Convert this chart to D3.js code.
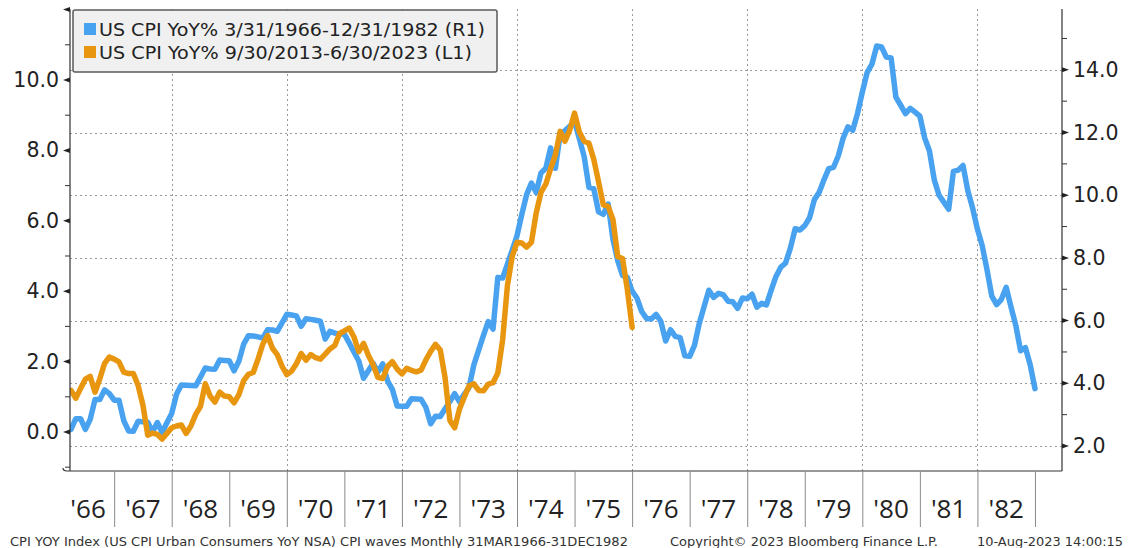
<!DOCTYPE html>
<html><head><meta charset="utf-8">
<script src="https://cdn.jsdelivr.net/npm/d3@7"></script>
<style>
html,body{margin:0;padding:0;background:#fff;}
svg{display:block;}
</style></head>
<body>
<script>
// ---------------- DATA ----------------
// Blue series: US CPI YoY%, monthly, Mar 1966 .. Dec 1982 (right axis)
const blueLabel = "US CPI YoY% 3/31/1966-12/31/1982 (R1)";
const blueValues = [
  2.53, 2.87, 2.87, 2.53, 2.85, 3.48, 3.48, 3.79, 3.67, 3.46,
  3.46, 2.81, 2.48, 2.47, 2.79, 2.77, 2.76, 2.45, 2.75, 2.43, 2.74, 3.04,
  3.65, 3.95, 3.94, 3.93, 3.92, 4.20, 4.49, 4.46, 4.45, 4.74, 4.73, 4.72,
  4.40, 4.70, 5.25, 5.52, 5.51, 5.48, 5.44, 5.71, 5.70, 5.66, 5.93, 6.20,
  6.18, 6.15, 5.82, 6.06, 6.04, 6.01, 5.98, 5.41, 5.66, 5.60, 5.57, 5.57,
  5.29, 5.00, 4.71, 4.16, 4.40, 4.64, 4.36, 4.62, 4.08, 3.81, 3.28, 3.27,
  3.27, 3.51, 3.50, 3.49, 3.23, 2.71, 2.95, 2.94, 3.19, 3.42, 3.67, 3.41,
  3.65, 3.87, 4.59, 5.06, 5.53, 5.97, 5.73, 7.38, 7.36, 7.80, 8.25, 8.71,
  9.39, 10.02, 10.39, 10.09, 10.71, 10.86, 11.51, 10.86, 11.95, 12.06, 12.20, 12.34,
  11.80, 11.23, 10.25, 10.21, 9.47, 9.39, 9.72, 8.60, 7.91, 7.44, 7.38, 6.94,
  6.72, 6.29, 6.07, 6.05, 6.20, 5.97, 5.35, 5.71, 5.50, 5.46, 4.88, 4.86,
  5.21, 5.91, 6.44, 6.97, 6.74, 6.87, 6.83, 6.62, 6.60, 6.39, 6.72, 6.70,
  6.84, 6.43, 6.55, 6.50, 6.97, 7.41, 7.70, 7.84, 8.31, 8.93, 8.89, 9.03,
  9.28, 9.86, 10.09, 10.49, 10.85, 10.89, 11.26, 11.82, 12.18, 12.07, 12.61, 13.29,
  13.91, 14.18, 14.76, 14.73, 14.41, 14.38, 13.13, 12.87, 12.60, 12.77, 12.65, 12.52,
  11.83, 11.41, 10.49, 10.00, 9.78, 9.55, 10.76, 10.80, 10.95, 10.14, 9.59, 8.92,
  8.39, 7.62, 6.78, 6.51, 6.68, 7.06, 6.44, 5.85, 5.04, 5.14, 4.59, 3.83
];
// Orange series: US CPI YoY%, monthly, Sep 2013 .. Jun 2023 (left axis), overlaid from Mar 1966
const orangeLabel = "US CPI YoY% 9/30/2013-6/30/2023 (L1)";
const orangeValues = [
  1.18, 0.96, 1.24, 1.50,
  1.58, 1.13, 1.51, 1.95, 2.13, 2.07, 1.99, 1.70, 1.66, 1.66, 1.32, 0.76,
  -0.09, -0.03, -0.07, -0.20, -0.04, 0.12, 0.17, 0.20, -0.04, 0.17, 0.50, 0.73,
  1.37, 1.02, 0.85, 1.13, 1.02, 1.00, 0.83, 1.06, 1.46, 1.64, 1.69, 2.07,
  2.50, 2.74, 2.38, 2.20, 1.87, 1.63, 1.73, 1.94, 2.23, 2.04, 2.20, 2.11,
  2.07, 2.21, 2.36, 2.46, 2.80, 2.87, 2.95, 2.70, 2.28, 2.52, 2.18, 1.91,
  1.55, 1.52, 1.86, 2.00, 1.79, 1.65, 1.81, 1.75, 1.71, 1.76, 2.05, 2.29,
  2.49, 2.33, 1.54, 0.33, 0.12, 0.65, 0.99, 1.31, 1.37, 1.18, 1.17, 1.36,
  1.40, 1.68, 2.62, 4.16, 4.99, 5.39, 5.37, 5.25, 5.39, 6.22, 6.81, 7.04,
  7.48, 7.87, 8.54, 8.26, 8.58, 9.06, 8.52, 8.26, 8.20, 7.75, 7.11, 6.45,
  6.41, 6.04, 4.98, 4.93, 4.05, 2.97
];
const startYear = 1966, startMonth = 3;   // first point (month-end) of the time axis
const yearLabels = ["'66","'67","'68","'69","'70","'71","'72","'73","'74","'75","'76","'77","'78","'79","'80","'81","'82"];
const leftTicks = [0, 2, 4, 6, 8, 10];
const rightTicks = [2, 4, 6, 8, 10, 12, 14];
const footerLeft = "CPI YOY Index (US CPI Urban Consumers YoY NSA) CPI waves  Monthly 31MAR1966-31DEC1982";
const footerMid = "Copyright\u00A9 2023 Bloomberg Finance L.P.";
const footerRight = "10-Aug-2023 14:00:15";

// ---------------- LAYOUT ----------------
const W = 1135, H = 548;
const L = 70, R = 1062, T = 9, B = 471;
const BLUE = "#48a2ef", ORANGE = "#e8960f";
const FONT = "DejaVu Sans, Verdana, sans-serif";

const svg = d3.select("body").append("svg").attr("width", W).attr("height", H);
svg.append("rect").attr("width", W).attr("height", H).attr("fill", "#fff");

// time scale in decimal years (month-end positions)
const x = d3.scaleLinear().domain([1966.2326, 1983.4697]).range([L, R]);
const yL = d3.scaleLinear().domain([-1.108, 12.017]).range([B, T]);
const yR = d3.scaleLinear().domain([1.203, 15.94]).range([B, T]);
const tOf = i => startYear + (startMonth + i) / 12;   // month-end decimal year

// grid: horizontal (right axis), vertical at even years
const grid = svg.append("g").attr("stroke", "#9a9a9a").attr("stroke-width", 1).attr("stroke-dasharray", "2,3");
grid.selectAll("line.h").data(rightTicks).join("line")
  .attr("x1", L).attr("x2", R).attr("y1", d => Math.round(yR(d)) + 0.5).attr("y2", d => Math.round(yR(d)) + 0.5);
const evenYears = d3.range(1968, 1983, 2);
grid.selectAll("line.v").data(evenYears).join("line")
  .attr("y1", T).attr("y2", B).attr("x1", d => Math.round(x(d)) + 0.5).attr("x2", d => Math.round(x(d)) + 0.5);

// lines
svg.append("clipPath").attr("id", "clip").append("rect").attr("x", L).attr("y", T).attr("width", R - L).attr("height", B - T);
const gl = svg.append("g").attr("clip-path", "url(#clip)");
const lineB = d3.line().x((d, i) => x(tOf(i))).y(d => yR(d)).curve(d3.curveLinear);
const lineO = d3.line().x((d, i) => x(tOf(i))).y(d => yL(d)).curve(d3.curveLinear);
gl.append("path").attr("d", lineB(blueValues)).attr("fill", "none").attr("stroke", BLUE)
  .attr("stroke-width", 5.5).attr("stroke-linejoin", "round").attr("stroke-linecap", "round");
gl.append("path").attr("d", lineO(orangeValues)).attr("fill", "none").attr("stroke", ORANGE)
  .attr("stroke-width", 5.5).attr("stroke-linejoin", "round").attr("stroke-linecap", "round");

// frame
const frame = svg.append("g").attr("stroke", "#333").attr("stroke-width", 1.2).attr("fill", "none");
frame.append("path").attr("d", `M${L},${T} L${L},${B} M${R},${T} L${R},${B} M${L - 7},${B - 3} Q${L - 7},${B} ${L - 3},${B} L${R},${B}`);

// left axis (labels via d3 axis)
const axL = svg.append("g").attr("transform", `translate(${L - 11},0)`)
  .call(d3.axisLeft(yL).tickValues(leftTicks).tickSize(0).tickPadding(0).tickFormat(d3.format(".1f")));
axL.select(".domain").remove();
axL.selectAll("text").attr("font-family", FONT).attr("font-size", 20.5).attr("fill", "#222");
// left ticks: majors (triangles) and minors
const lMaj = d3.range(0, 13, 2), lMin = d3.range(-1, 12, 2);
svg.append("g").selectAll("path").data(lMaj).join("path")
  .attr("d", d => { const y = yL(d); return `M${L},${y - 2.5} L${L - 7},${y} L${L},${y + 2.5} Z`; })
  .attr("fill", "#222");
svg.append("g").selectAll("line").data(lMin).join("line")
  .attr("x1", L - 5).attr("x2", L).attr("y1", d => yL(d)).attr("y2", d => yL(d)).attr("stroke", "#333");

// right axis
const axR = svg.append("g").attr("transform", `translate(${R + 11},0)`)
  .call(d3.axisRight(yR).tickValues(rightTicks).tickSize(0).tickPadding(0).tickFormat(d3.format(".1f")));
axR.select(".domain").remove();
axR.selectAll("text").attr("font-family", FONT).attr("font-size", 20.5).attr("fill", "#222");
const rMin = d3.range(3, 16, 2);
svg.append("g").selectAll("path").data(rightTicks).join("path")
  .attr("d", d => { const y = yR(d); return `M${R},${y - 2.5} L${R + 7},${y} L${R},${y + 2.5} Z`; })
  .attr("fill", "#222");
svg.append("g").selectAll("line").data(rMin).join("line")
  .attr("x1", R).attr("x2", R + 5).attr("y1", d => yR(d)).attr("y2", d => yR(d)).attr("stroke", "#333");

// bottom axis: year separators through d3 axis
const yearStarts = d3.range(1967, 1984);
const axB = svg.append("g").attr("transform", `translate(0,${B})`)
  .call(d3.axisBottom(x).tickValues(yearStarts).tickSize(56).tickFormat(""));
axB.select(".domain").remove();
axB.selectAll("line").attr("stroke", "#8a8a8a");
// year labels centred in each visible year interval
svg.append("g").selectAll("text").data(yearLabels).join("text")
  .attr("x", (d, i) => { const a = Math.max(x(1966 + i), L - 8), b = Math.min(x(1967 + i), R); return (a + b) / 2; })
  .attr("y", 518).attr("text-anchor", "middle")
  .attr("font-family", "Open Sans, Noto Sans, sans-serif").attr("font-size", 26).attr("fill", "#222")
  .text(d => d);

// legend
const lg = svg.append("g");
lg.append("rect").attr("x", 73).attr("y", 10).attr("width", 424).attr("height", 62).attr("rx", 2)
  .attr("fill", "#f0f0f0").attr("stroke", "#5a5a5a").attr("stroke-width", 1.5);
const legendItems = [{label: blueLabel, color: BLUE, y: 29, w: 386}, {label: orangeLabel, color: ORANGE, y: 52, w: 373}];
legendItems.forEach(it => {
  lg.append("rect").attr("x", 84).attr("y", it.y - 6).attr("width", 12).attr("height", 12).attr("fill", it.color);
  lg.append("text").attr("x", 99).attr("y", it.y).attr("dy", "0.36em")
    .attr("font-family", FONT).attr("font-size", 18.5).attr("fill", "#222")
    .attr("textLength", it.w).attr("lengthAdjust", "spacingAndGlyphs").text(it.label);
});

// footer
const footer = [
  {t: footerLeft, x: 10, w: 618},
  {t: footerMid, x: 670, w: 268},
  {t: footerRight, x: 977, w: 146}
];
svg.append("g").selectAll("text").data(footer).join("text")
  .attr("x", d => d.x).attr("y", 541).attr("dy", "0.36em")
  .attr("font-family", FONT).attr("font-size", 13).attr("fill", "#333")
  .attr("textLength", d => d.w).attr("lengthAdjust", "spacingAndGlyphs")
  .text(d => d.t);
</script>
</body></html>
